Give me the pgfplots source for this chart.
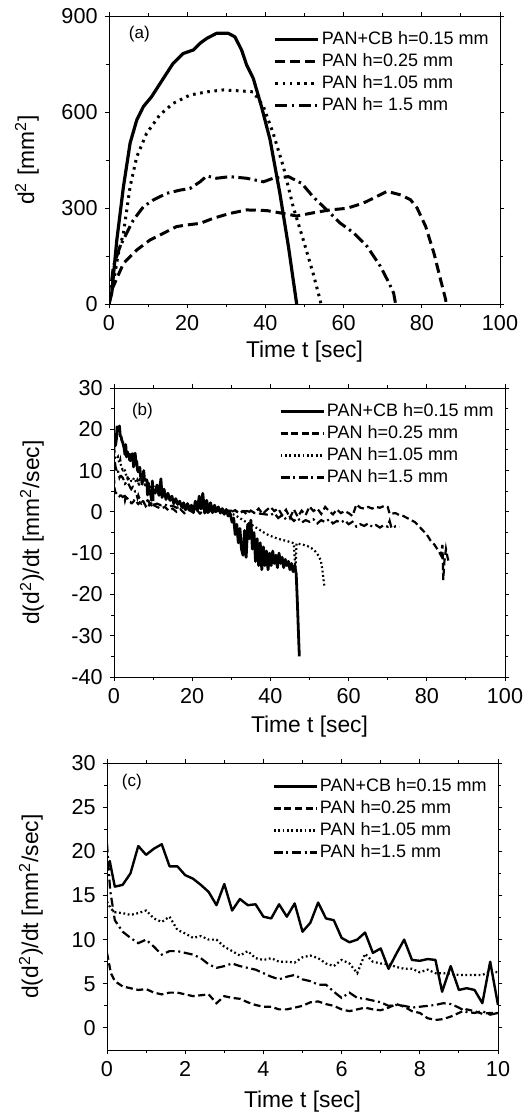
\documentclass[border=0pt]{standalone}
\usepackage{fontspec}
\setmainfont{Liberation Sans}
\usepackage{pgfplots}
\pgfplotsset{compat=1.18}
\usepackage{pgfplotstable}

% ---------------- panel (a) data ----------------
\pgfplotstableread{
t v
0 0
0.7 34
2.0 200
3.7 367
5.4 503
7.1 575
8.8 617
10.9 648
13.9 705
16.4 752
19.0 783
21.6 794
23.3 815
25.0 830
27.5 846
30.5 846
32.2 835
33.9 794
35.2 747
36.9 705
39.0 617
41.2 513
43.7 346
45.9 179
47.6 34
48.0 0
}\aSolid
\pgfplotstableread{
t v
0 0
0.7 44
3.7 127
7.1 169
10.5 200
13.9 221
17.3 242
19.9 247
23.3 252
26.7 268
30.9 283
35.2 294
40.3 292
44.6 283
48.0 275
52.2 285
56.5 294
60.8 299
65.0 315
69.3 341
71.1 352
74.6 341
77.1 326
78.8 300
81.0 242
83.1 159
84.8 76
86.1 14
86.2 0
}\aDash
\pgfplotstableread{
t v
0 0
1.1 65
2.4 159
3.7 222
5.4 367
7.1 460
9.6 533
13.0 591
16.4 627
20.7 653
25.0 663
29.2 669
33.5 666
36.9 663
39.5 617
42.0 533
44.6 429
47.1 304
49.7 200
52.2 96
54.0 12
54.2 0
}\aDot
\pgfplotstableread{
t v
0 0
1.1 117
2.8 179
4.5 221
6.2 262
8.8 304
11.3 325
14.8 346
18.2 356
20.7 361
23.3 382
25.0 400
27.5 393
30.9 398
35.2 393
39.5 382
42.0 393
45.9 398
49.3 377
52.2 335
55.7 294
59.1 253
62.6 222
66.0 180
69.4 118
71.6 66
72.8 34
73.3 0
}\aDashDot

% ---------------- panel (c) data (first 10 s) ----------------
\pgfplotstableread{
t v
0 18.0
0.07 18.9
0.2 16.0
0.4 16.2
0.6 17.5
0.8 20.6
1.0 19.6
1.2 20.3
1.4 20.8
1.6 18.3
1.8 18.3
2.0 17.3
2.2 16.9
2.4 16.2
2.6 15.4
2.8 13.9
3.0 16.3
3.2 13.3
3.4 14.6
3.6 13.9
3.8 14.0
4.0 12.6
4.2 12.4
4.4 14.0
4.6 12.6
4.8 14.1
5.0 10.9
5.2 11.9
5.4 14.2
5.6 12.4
5.8 12.2
6.0 10.2
6.2 9.7
6.4 10.0
6.6 10.8
6.8 8.5
7.0 9.0
7.2 6.7
7.4 8.4
7.6 10.0
7.8 7.7
8.0 7.6
8.2 7.8
8.4 7.7
8.57 4.1
8.79 7.0
9.0 4.3
9.2 4.5
9.4 4.3
9.6 2.8
9.8 7.5
10.0 2.6
}\cSolid
\pgfplotstableread{
t v
0 8.5
0.1 6.2
0.2 5.3
0.4 4.7
0.6 4.5
0.8 4.3
1.0 4.4
1.2 4.0
1.4 3.8
1.6 4.0
1.8 4.0
2.0 3.8
2.2 3.6
2.4 3.7
2.6 3.8
2.8 2.8
3.0 3.6
3.2 3.4
3.4 3.3
3.6 2.9
3.8 2.6
4.0 2.4
4.2 2.4
4.4 2.1
4.6 2.1
4.8 2.3
5.0 2.5
5.2 2.9
5.4 3.0
5.6 2.7
5.8 2.5
6.0 2.1
6.2 1.9
6.4 2.1
6.6 2.3
6.8 2.1
7.0 2.0
7.2 2.3
7.4 2.7
7.6 2.4
7.8 1.9
8.0 1.7
8.2 1.1
8.4 0.9
8.6 1.0
8.8 1.3
9.0 1.7
9.2 2.1
9.4 1.9
9.6 1.6
9.8 1.7
10.0 1.7
}\cDash
\pgfplotstableread{
t v
0 14.3
0.1 13.5
0.2 13.1
0.4 13.0
0.6 12.8
0.8 13.0
1.0 13.3
1.2 12.4
1.4 12.0
1.6 12.6
1.8 11.1
2.0 10.7
2.2 10.2
2.4 10.4
2.6 10.0
2.8 10.0
3.0 9.2
3.2 8.7
3.4 8.2
3.6 8.7
3.8 7.9
4.0 7.7
4.2 7.9
4.4 7.5
4.6 7.5
4.8 7.4
5.0 8.0
5.2 8.2
5.4 7.9
5.6 7.3
5.8 7.0
6.0 7.7
6.2 7.3
6.4 6.2
6.6 8.4
6.8 7.5
7.0 7.3
7.2 7.2
7.4 6.9
7.6 6.7
7.8 6.7
8.0 6.3
8.2 6.6
8.4 6.2
8.6 6.2
9.0 6.0
9.4 6.0
9.6 6.0
9.8 6.4
10.0 6.3
}\cDot
\pgfplotstableread{
t v
0 20.9
0.08 15.6
0.2 12.2
0.4 10.9
0.6 10.2
0.8 9.6
1.0 10.0
1.2 9.2
1.4 8.3
1.6 8.7
1.8 8.7
2.0 8.5
2.2 8.3
2.4 7.9
2.6 7.2
2.8 6.8
3.0 7.0
3.2 7.3
3.4 7.0
3.6 6.8
3.8 6.6
4.0 6.2
4.2 5.8
4.4 5.5
4.6 5.8
4.8 6.0
5.0 5.5
5.2 5.3
5.4 4.9
5.6 4.9
5.8 4.1
6.0 3.4
6.2 4.0
6.4 3.4
6.6 3.3
6.8 3.1
7.0 2.9
7.2 2.5
7.4 2.6
7.6 2.5
7.8 2.3
8.0 2.4
8.2 2.5
8.4 2.6
8.6 2.8
8.8 2.7
9.0 2.3
9.2 1.8
9.4 1.7
9.6 1.9
9.8 1.5
10.0 1.7
}\cDashDot

% ---------------- panel (b) data after 10 s ----------------
\pgfplotstableread{
t v
10 5.5
10.5 4.5
11 6.5
11.5 4
12 8
12.3 3.5
12.8 5.5
13.3 3
13.8 4.5
14.3 2.8
14.8 3.8
15.3 2
15.8 3.2
16.3 1.8
16.8 2.6
17.3 1.2
17.8 2.2
18.3 0.5
18.8 2
19.3 0.8
19.8 1.6
20.3 -0.2
20.8 2.6
21.3 0.4
21.8 3.8
22.3 0.8
22.7 4.5
23.2 -0.3
23.7 2.8
24.2 0.3
24.7 2.2
25.2 -0.2
25.7 1.6
26.2 0.3
26.7 1.2
27.2 -0.3
27.7 0.8
28.2 -0.6
28.7 0.6
29.2 -1
29.7 -0.3
30.2 -2.5
30.6 -1.5
31 -5.5
31.4 -3
31.8 -7.5
32.2 -4
32.6 -9
33 -10.5
33.4 -4.5
33.8 -11
34.2 -3
34.6 -6.5
35 -2
35.4 -9
35.8 -5
36.2 -12
36.6 -6.5
37 -13
37.4 -7.5
37.8 -14
38.2 -8.5
38.6 -13
39 -9.5
39.4 -14
39.8 -10
40.2 -13
40.6 -9.5
41 -12.5
41.4 -10.5
41.8 -13.5
42.2 -10
42.6 -12.5
43 -11
43.4 -13.5
43.8 -11.5
44.2 -13
44.6 -12
45 -14
45.4 -12.5
45.8 -14.5
46.2 -13
46.6 -15
46.9 -22
47.2 -30
47.4 -35
}\bSolid
\pgfplotstableread{
t v
10 1.7
11 1.2
12 0.8
13 1.2
14 0.3
15 0.8
16 0
17 0.6
18 -0.3
19 0.5
20 0
21 0.6
22 -0.4
23 0.4
24 -0.2
25 0.5
26 0
27 0.4
28 -0.3
29 0.3
30 0
31 0.4
32 -0.4
33 0.2
34 -0.6
35 0.3
36 -0.3
37 0.8
38 -0.5
39 0.4
40 1.2
41 0.2
42 0.8
43 -0.8
44 0.5
45 -1.5
46 0.6
47 -1.2
48 0.3
49 -0.8
50 1.3
51 0.2
52 0.8
53 -0.5
54 1.2
55 0.2
56 -0.6
57 0.6
58 -0.3
59 0.2
60 -0.3
61 -1
62 1.8
63 1
64 0.8
65 1.2
66 0.8
67 1.2
68 1
69 1.4
70 1.2
70.5 -0.5
72 -0.3
73 -0.8
74 -1
75 -1.5
76 -2
77 -2.5
78 -3.5
79 -4.5
80 -5.5
81 -7
82 -8
83 -9.5
83.6 -10.5
84 -8
84.2 -16.5
84.5 -12
84.9 -9
85.3 -11
85.7 -12.5
}\bDash
\pgfplotstableread{
t v
10 6.3
11 5
12 4.2
13 3.5
14 3
15 2.6
16 2.2
17 2
18 1.6
19 1.5
20 1.2
21 0.8
22 1
23 0.6
24 0.7
25 0.4
26 0.5
27 0.2
28 0.1
29 -0.2
30 -0.4
31 -0.8
32 -1.4
33 -2
34 -2.6
35 -3
36 -3.6
37 -4.2
38 -4.8
39 -5.4
40 -5.8
41 -6.2
42 -6.5
43 -6.8
44 -7
45 -7.3
46 -7.6
46.4 -14
46.7 -7.6
47.5 -7.8
48.5 -8
49.5 -8.3
50.5 -8.8
51.5 -9.6
52.3 -10.6
52.9 -11.8
53.3 -14
53.6 -16.5
53.8 -18
}\bDot
\pgfplotstableread{
t v
10 1.7
11 2
12 1.6
13 1.8
14 1.3
15 1.5
16 1
17 1.2
18 0.8
19 1
20 0.6
22 0.8
24 0.4
26 0.6
28 0.2
30 0.3
32 0
34 0.2
36 -0.3
38 -0.5
40 -0.8
41 -0.3
42 -1.5
43 -0.8
44 -1.8
45 -1.2
46 -2.2
47 -1.5
48 -2.6
49 -2
50 -2.4
51 -1.8
52 -2.8
53 -2
54 -2.5
55 -1.8
56 -2.8
57 -2.2
58 -2.6
59 -2
60 -3
61 -2.4
62 -3.6
63 -3
64 -3.4
65 -2.8
66 -3.6
67 -3.2
68 -3.8
69 -3.2
70 -3.6
70.5 -2.2
71 -4
72 -3.5
73 -3.6
}\bDashDot

\pgfplotsset{
  panel/.style={
    scale only axis,
    width=195.5pt,
    axis line style={line width=0.5pt},
    tick align=outside,
    major tick length=2.2pt,
    minor tick length=1.3pt,
    every tick/.style={black, line width=0.5pt},
    minor x tick num=1,
    minor y tick num=1,
    tick label style={font=\fontsize{10.8}{12}\selectfont},
    xlabel={Time t [sec]},
    every axis x label/.style={at={(axis description cs:0.5,0)}, anchor=center, font=\fontsize{11.4}{13}\selectfont},
    every axis y label/.style={at={(axis description cs:0,0.5)}, anchor=center, font=\fontsize{11.4}{13}\selectfont},
    legend style={draw=none, fill=none, at={(rel axis cs:0.99,0.965)}, anchor=north east,
      font=\fontsize{9}{10}\selectfont, row sep=2pt,
      nodes={inner sep=0.5pt, text height=6.5pt, text depth=1.5pt}},
    legend cell align=left,
    legend image code/.code={\draw[##1] (0pt,0pt) -- (21.5pt,0pt); \path (22pt,0pt);},
  },
  sA/.style={black, line width=1.6pt, line join=round},
  dA/.style={black, line width=1.5pt, dash pattern=on 5pt off 2.5pt},
  oA/.style={black, line width=1.5pt, dash pattern=on 1.3pt off 2.3pt},
  ddA/.style={black, line width=1.5pt, dash pattern=on 6pt off 2.2pt on 1.2pt off 2.2pt},
  sB/.style={black, line width=1.2pt, line join=round},
  sBb/.style={black, line width=1.4pt, line join=round},
  dB/.style={black, line width=1.1pt, dash pattern=on 3.5pt off 1.8pt},
  oB/.style={black, line width=1.1pt, dash pattern=on 0.9pt off 1.3pt},
  ddB/.style={black, line width=1.1pt, dash pattern=on 4.5pt off 1.8pt on 1pt off 1.8pt},
}

\begin{document}
\begin{tikzpicture}
\useasboundingbox (0pt,0pt) rectangle (261.5pt,-559pt);

% ---------- (a) ----------
\begin{axis}[panel,
  at={(54.5pt,-152pt)}, anchor=south west, height=144pt,
  xmin=0, xmax=100, ymin=0, ymax=900,
  xtick={0,20,40,60,80,100}, xticklabels={0,20,40,60,80,100},
  ytick={0,300,600,900}, yticklabels={0,300,600,900},
  ylabel={d\textsuperscript{2} [mm\textsuperscript{2}]},
  xlabel style={yshift=-24pt},
  ylabel style={xshift=-41pt, rotate=90},
]
\addplot[sA] table[x=t,y=v] {\aSolid};
\addlegendentry{PAN+CB h=0.15 mm}
\addplot[dA] table[x=t,y=v] {\aDash};
\addlegendentry{PAN h=0.25 mm}
\addplot[oA] table[x=t,y=v] {\aDot};
\addlegendentry{PAN h=1.05 mm}
\addplot[ddA] table[x=t,y=v] {\aDashDot};
\addlegendentry{PAN h= 1.5 mm}
\node[anchor=west, font=\fontsize{8.5}{10}\selectfont] at (rel axis cs:0.033,0.9375) {(a)};
\end{axis}

% ---------- (b) ----------
\begin{axis}[panel,
  at={(57pt,-338.5pt)}, anchor=south west, height=144.5pt,
  xmin=0, xmax=100, ymin=-40, ymax=30,
  xtick={0,20,40,60,80,100}, xticklabels={0,20,40,60,80,100},
  ytick={-40,-30,-20,-10,0,10,20,30}, yticklabels={-40,-30,-20,-10,0,10,20,30},
  ylabel={d(d\textsuperscript{2})/dt [mm\textsuperscript{2}/sec]},
  xlabel style={yshift=-25pt},
  ylabel style={xshift=-41pt, rotate=90},
]
\addplot[sBb] table[x=t,y=v] {\cSolid};
\addlegendentry{PAN+CB h=0.15 mm}
\addplot[dB] table[x=t,y=v] {\cDash};
\addlegendentry{PAN h=0.25 mm}
\addplot[oB] table[x=t,y=v] {\cDot};
\addlegendentry{PAN h=1.05 mm}
\addplot[ddB] table[x=t,y=v] {\cDashDot};
\addlegendentry{PAN h=1.5 mm}
\addplot[sBb, forget plot] table[x=t,y=v] {\bSolid};
\addplot[dB, forget plot] table[x=t,y=v] {\bDash};
\addplot[oB, forget plot] table[x=t,y=v] {\bDot};
\addplot[ddB, forget plot] table[x=t,y=v] {\bDashDot};
\node[anchor=west, font=\fontsize{8.5}{10}\selectfont] at (rel axis cs:0.028,0.92) {(b)};
\end{axis}

% ---------- (c) ----------
\begin{axis}[panel,
  at={(53.5pt,-525pt)}, anchor=south west, height=143.5pt,
  xmin=0, xmax=10, ymin=-2.5, ymax=30,
  xtick={0,2,4,6,8,10}, xticklabels={0,2,4,6,8,10},
  ytick={0,5,10,15,20,25,30}, yticklabels={0,5,10,15,20,25,30},
  ylabel={d(d\textsuperscript{2})/dt [mm\textsuperscript{2}/sec]},
  xlabel style={yshift=-26pt},
  ylabel style={xshift=-38pt, rotate=90},
]
\addplot[sB] table[x=t,y=v] {\cSolid};
\addlegendentry{PAN+CB h=0.15 mm}
\addplot[dB] table[x=t,y=v] {\cDash};
\addlegendentry{PAN h=0.25 mm}
\addplot[oB] table[x=t,y=v] {\cDot};
\addlegendentry{PAN h=1.05 mm}
\addplot[ddB] table[x=t,y=v] {\cDashDot};
\addlegendentry{PAN h=1.5 mm}
\node[anchor=west, font=\fontsize{8.5}{10}\selectfont] at (rel axis cs:0.02,0.934) {(c)};
\end{axis}
\end{tikzpicture}
\end{document}
